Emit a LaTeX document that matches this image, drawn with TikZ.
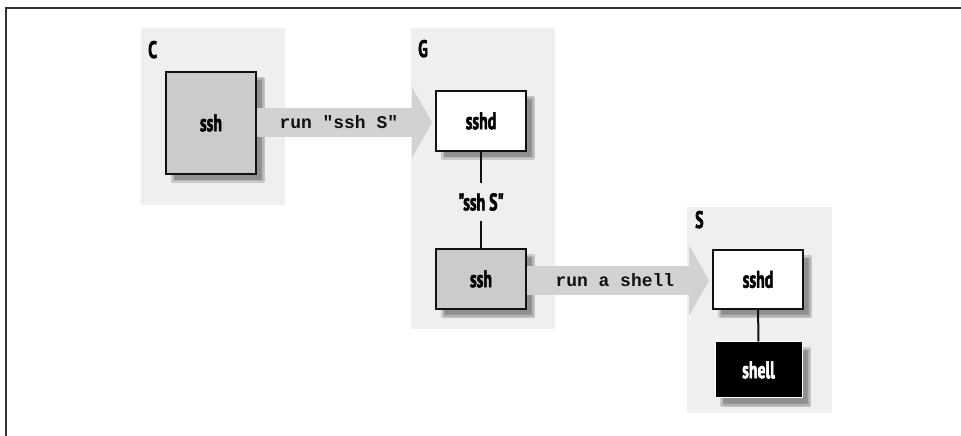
\documentclass[tikz,border=0pt]{standalone}
\usepackage{fontspec}
\usetikzlibrary{arrows.meta, shadows.blur, positioning}
\newfontfamily\boxfont[FakeStretch=0.66, BoldFont={PT Sans Bold}, BoldFeatures={FakeBold=2.2}]{PT Sans}
\newfontfamily\cmdfont{Liberation Mono}
\definecolor{ink}{HTML}{111111}
\definecolor{panel}{HTML}{EFEFEF}
\definecolor{proc}{HTML}{CBCBCB}
\definecolor{pipe}{HTML}{D2D2D2}
\definecolor{frame}{HTML}{333333}
\tikzset{
  hostlbl/.style={font=\boxfont\bfseries\fontsize{24}{24}\selectfont, anchor=base west, inner sep=0pt},
  procbox/.style={draw=ink, line width=1.6bp, minimum width=90bp, minimum height=60bp, inner sep=0pt,
    font=\boxfont\bfseries\fontsize{24}{24}\selectfont,
    blur shadow={shadow xshift=7bp, shadow yshift=-7bp, shadow opacity=40, shadow blur steps=6}},
  pipearrow/.style={pipe, line width=29bp, -{Triangle[length=20bp,width=69bp]}, shorten >=3bp},
  cmdlbl/.style={font=\cmdfont\bfseries\fontsize{18}{18}\selectfont, inner sep=0pt, text=ink},
  link/.style={ink, line width=2bp}
}
\begin{document}
\begin{tikzpicture}[x=1bp,y=-1bp]
  \useasboundingbox (0,0) rectangle (961,436);
  \draw[frame,line width=2bp] (961,8)--(6,8)--(6,436);
  % hosts
  \foreach \x/\y/\w/\h/\lx/\ly/\n in {141/28/144/177/148/58/C, 411/28/144/301/418/57/G, 687/207/145/206/695/228/S}{
     \fill[panel] (\x,\y) rectangle ++(\w,\h);
     \node[hostlbl] (host\n) at (\lx,\ly) {\n};}
  % processes
  \node[procbox,fill=proc,minimum height=102bp] (cssh) at (211,123) {ssh};
  \node[procbox,fill=white] (gsshd) at (481,121) {sshd};
  \node[procbox,fill=proc] (gssh) at (481,279) {ssh};
  \node[procbox,fill=white,minimum height=59bp] (ssshd) at (758,279.5) {sshd};
  \node[procbox,fill=black,draw=white,line width=1bp,text=white,minimum width=87bp,minimum height=56bp] (sshell) at (758.5,370) {shell};
  % links
  \node[font=\boxfont\bfseries\fontsize{24}{24}\selectfont,inner sep=0pt,minimum height=37bp] (gcmd) at (481,202) {"ssh S"};
  \draw[link] (gsshd)--(gcmd)--(gssh);
  \draw[link] (ssshd)--(sshell);
  \draw[pipearrow] (cssh.east|-0,122.5)--(gsshd.west|-0,122.5) node[cmdlbl,pos=0.46] (runssh) {run "ssh S"};
  \draw[pipearrow] (gssh.east|-0,280.5)--(ssshd.west|-0,280.5) node[cmdlbl,pos=0.475] (runsh) {run a shell};
\end{tikzpicture}
\end{document}
